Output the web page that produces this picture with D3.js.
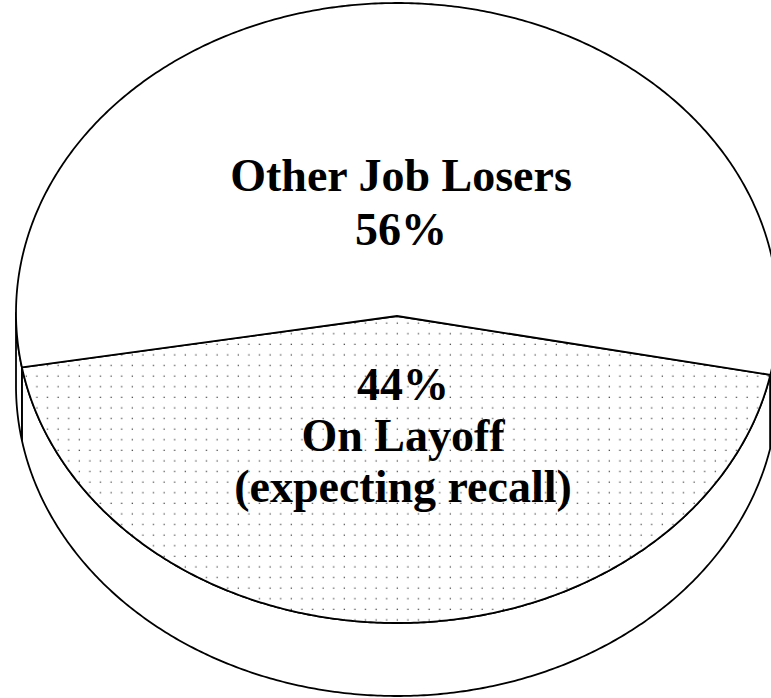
<!DOCTYPE html>
<html>
<head>
<meta charset="utf-8">
<script src="https://cdn.jsdelivr.net/npm/d3@7"></script>
<style>
  html, body { margin: 0; padding: 0; background: #fff; }
  svg { display: block; }
</style>
</head>
<body>
<svg id="chart" width="771" height="698"></svg>
<script>
// Job losers by reason
const categories = ["On Layoff (expecting recall)", "Other Job Losers"];
const shares = [44, 56];
const labelLines = [
  ["44%", "On Layoff", "(expecting recall)"],
  ["Other Job Losers", "56%"]
];

const svg = d3.select("#chart");

// Tilted disc geometry
const cx = 397, cy = 313, rx = 381, ry = 310, depth = 73;
const deg = Math.PI / 180;

const pie = d3.pie()
  .sort(null)
  .value(d => d)
  .startAngle(101.5 * deg)
  .endAngle(101.5 * deg + 2 * Math.PI);
const arcs = pie(shares);

// angle (d3 convention: 0 at top, clockwise) -> point on ellipse
const px = a => cx + rx * Math.sin(a);
const py = (a, dz = 0) => cy - ry * Math.cos(a) + dz;

function sampleAngles(a0, a1) {
  const n = Math.max(2, Math.ceil(Math.abs(a1 - a0) / (0.5 * deg)));
  return d3.range(n + 1).map(i => a0 + (a1 - a0) * i / n);
}
const line = d3.line();
const strokeW = 1.8;

// Dot screen for the layoff slice
const defs = svg.append("defs");
const step = 10.6;
const pat = defs.append("pattern")
  .attr("id", "dots")
  .attr("patternUnits", "userSpaceOnUse")
  .attr("width", step).attr("height", step);
pat.append("rect").attr("width", step).attr("height", step).attr("fill", "#fff");
pat.append("rect").attr("x", 4.5).attr("y", 4.5).attr("width", 1.3).attr("height", 1.3).attr("fill", "#555");

const g = svg.append("g");

// Side walls: visible front half (angles between 90° and 270°)
const front = [90 * deg, 270 * deg];
const norm = a => ((a % (2 * Math.PI)) + 2 * Math.PI) % (2 * Math.PI);
arcs.forEach(d => {
  const segs = [];
  const s = norm(d.startAngle), e = s + (d.endAngle - d.startAngle);
  if (e > 2 * Math.PI) { segs.push([s, 2 * Math.PI]); segs.push([0, e - 2 * Math.PI]); }
  else segs.push([s, e]);
  segs.forEach(([u, v]) => {
    const lo = Math.max(u, front[0]), hi = Math.min(v, front[1]);
    if (hi <= lo) return;
    const top = sampleAngles(lo, hi).map(a => [px(a), py(a)]);
    const bot = sampleAngles(hi, lo).map(a => [px(a), py(a, depth)]);
    g.append("path")
      .attr("d", line(top.concat(bot)) + "Z")
      .attr("fill", "#fff")
      .attr("stroke", "#000")
      .attr("stroke-width", strokeW)
      .attr("stroke-linejoin", "round");
  });
});

// Top faces
arcs.forEach((d, i) => {
  const pts = [[cx, cy + 3]].concat(sampleAngles(d.startAngle, d.endAngle).map(a => [px(a), py(a)]));
  g.append("path")
    .attr("d", line(pts) + "Z")
    .attr("fill", i === 0 ? "url(#dots)" : "#fff")
    .attr("stroke", "#000")
    .attr("stroke-width", strokeW)
    .attr("stroke-linejoin", "round");
});

// Labels
const labelPos = [
  { x: 403, y: 400, lh: 51 },
  { x: 401, y: 191, lh: 54 }
];
labelLines.forEach((lines, i) => {
  const t = svg.append("text")
    .attr("text-anchor", "middle")
    .attr("font-family", "'Liberation Serif', 'Times New Roman', serif")
    .attr("font-weight", "bold")
    .attr("font-size", 46)
    .attr("fill", "#000");
  lines.forEach((s, j) => {
    t.append("tspan")
      .attr("x", labelPos[i].x)
      .attr("y", labelPos[i].y + j * labelPos[i].lh)
      .text(s);
  });
});
</script>
</body>
</html>
